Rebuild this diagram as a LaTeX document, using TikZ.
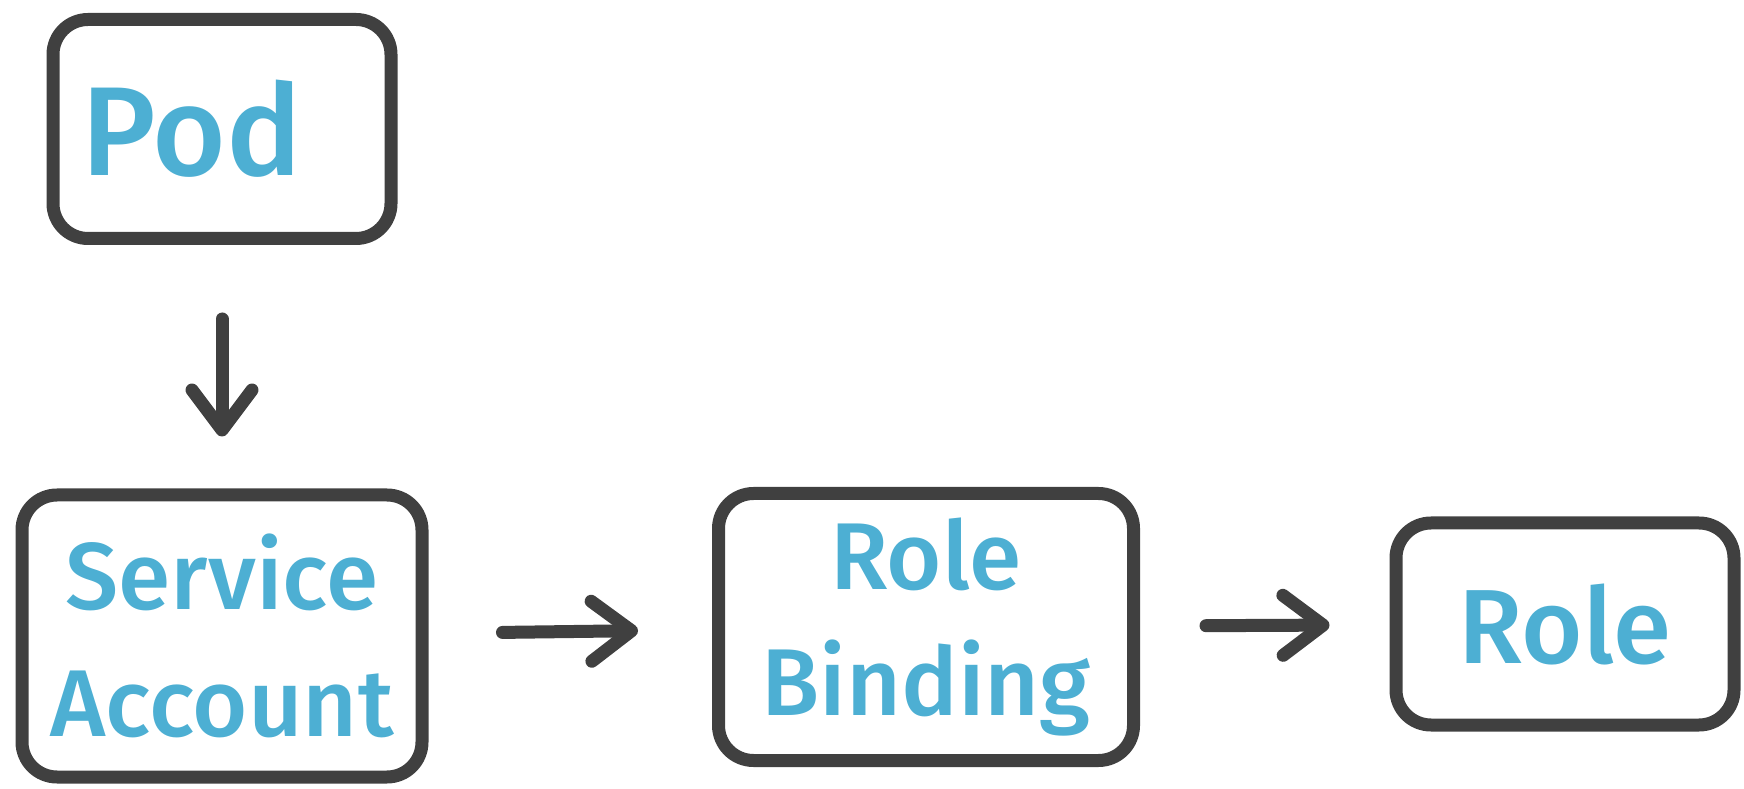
\documentclass[tikz,border=0pt]{standalone}
\usepackage{fontspec}
\setmainfont{Fira Sans Medium}
\usepackage{tikz}
\usetikzlibrary{arrows.meta, positioning}

\definecolor{ink}{HTML}{404040}
\definecolor{sky}{HTML}{4DAFD3}

\begin{document}
\begin{tikzpicture}[
        >={Straight Barb[length=4mm, width=6mm, round]},
        b/.style={rectangle, draw=ink, line width=1.3mm, rounded corners=3.5mm,
                  text=sky, align=center, inner sep=0pt},
        e/.style={->, draw=ink, line width=1.3mm, line cap=round}
    ]
        \useasboundingbox (0,0) rectangle (17.44,-7.89);

        \node[b, minimum width=3.38cm, minimum height=2.19cm, font=\fontsize{36}{40}\selectfont]
            (pod) at (2.22,-1.29) {\hspace{-6mm}Pod};
        \node[b, minimum width=4.0cm, minimum height=2.82cm, font=\fontsize{27}{36}\selectfont]
            (sa) at (2.22,-6.36) {Service\\Account};
        \node[b, minimum width=4.15cm, minimum height=2.67cm, font=\fontsize{27}{36}\selectfont]
            (rb) at (9.26,-6.27) {Role\\Binding};
        \node[b, minimum width=3.38cm, minimum height=2.02cm, font=\fontsize{30}{36}\selectfont]
            (role) at (15.65,-6.24) {Role};

        \draw[e, shorten <=7.4mm, shorten >=5.2mm] (pod) -- (sa);
        \draw[e, shorten <=7.4mm, shorten >=7.4mm] (sa) -- (rb);
        \draw[e, shorten <=6.6mm, shorten >=6mm] (rb) -- (role);
    \end{tikzpicture}
\end{document}
